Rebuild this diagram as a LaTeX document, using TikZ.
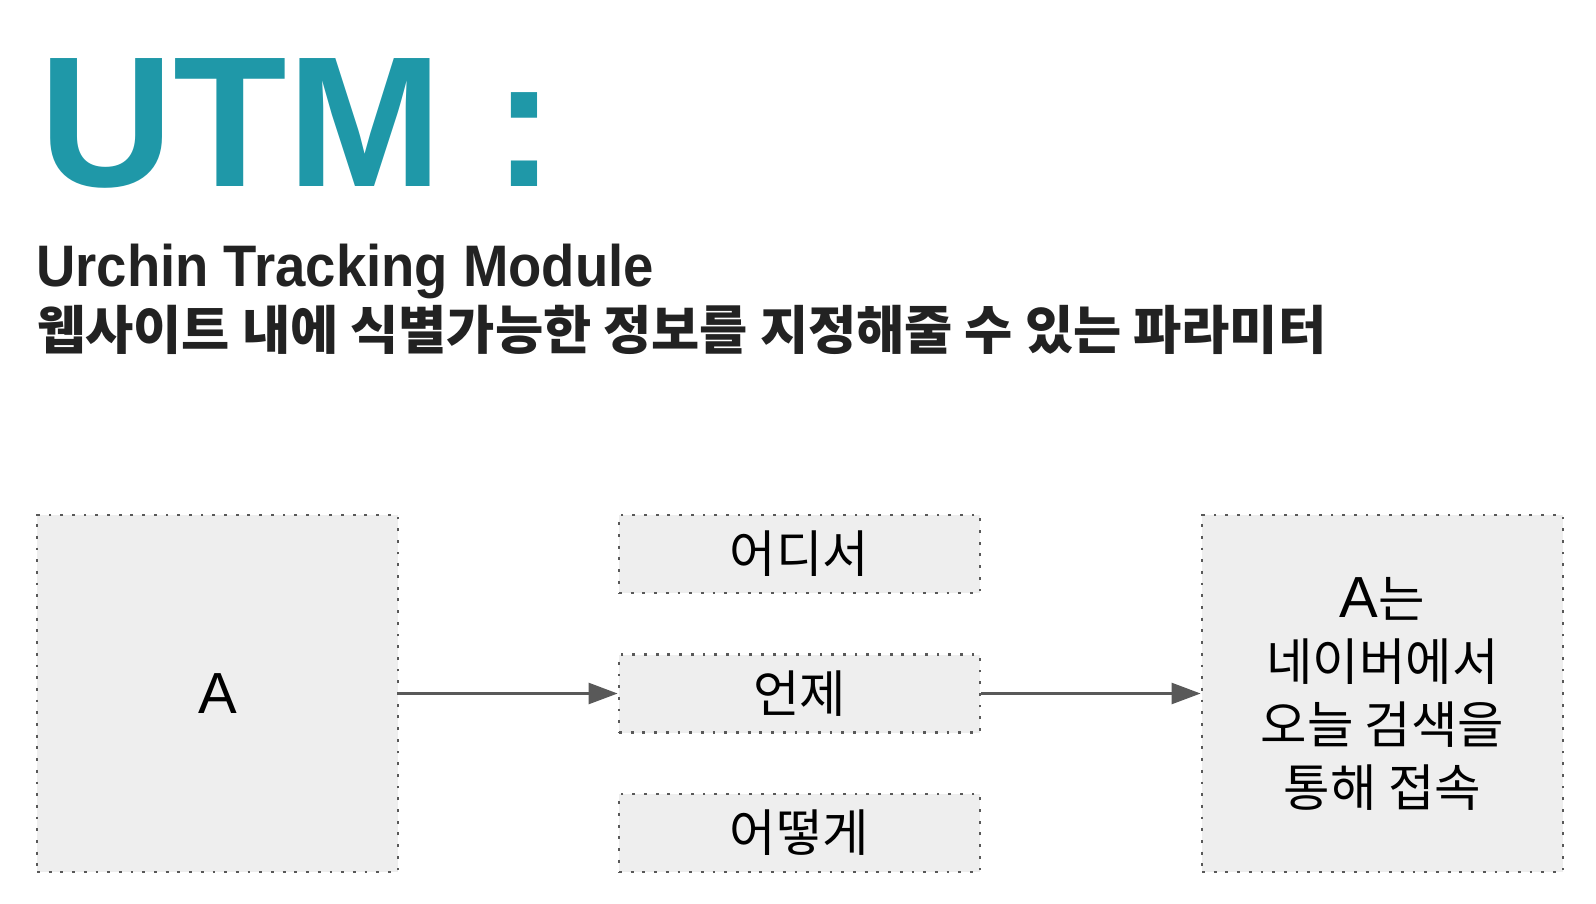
\documentclass[tikz,border=0pt]{standalone}
\usepackage{fontspec}
\setmainfont{Liberation Sans}
\newfontfamily\kr{Noto Sans CJK KR}
\newfontfamily\subfont[FakeStretch=0.93]{Liberation Sans}
\usetikzlibrary{arrows.meta}
\definecolor{teal1}{HTML}{1F98A8}
\definecolor{edge}{HTML}{595959}
\definecolor{boxfill}{HTML}{EEEEEE}
\definecolor{ink}{HTML}{222222}
\tikzset{
  box/.style={draw=edge, fill=boxfill, line width=2.8pt, dash pattern=on 2.8pt off 8.9pt, inner sep=0pt, align=center},
  conn/.style={draw=edge, line width=2.5pt, -{Triangle[length=29pt,width=21pt]}},
  boxtxt/.style={font=\fontsize{50.5}{63}\selectfont\kr},
}
\newcommand{\lat}[1]{{\fontsize{58}{63}\selectfont\rmfamily #1}}
\begin{document}
\begin{tikzpicture}[x=1pt,y=-1pt]
\useasboundingbox (0,0) rectangle (1596,904);
\node[anchor=base west, inner sep=0pt, text=teal1, font=\fontsize{186}{186}\selectfont\bfseries] (title) at (39,187) {UTM :};
\node[anchor=base west, inner sep=0pt, text=ink, font=\fontsize{58.6}{60}\selectfont\subfont\bfseries] (sub) at (36,287) {Urchin Tracking Module};
\node[anchor=base west, inner sep=0pt, text=ink, font=\fontsize{52.4}{60}\selectfont\kr\bfseries] (desc) at (37,349) {웹사이트 내에 식별가능한 정보를 지정해줄 수 있는 파라미터};
\node[box, minimum width=361pt, minimum height=357pt] (a) at (217.5,693.5) {\lat{A}};
\node[box, boxtxt, minimum width=361pt, minimum height=78pt] (where) at (799.5,554) {어디서};
\node[box, boxtxt, minimum width=361pt, minimum height=78pt] (when) at (799.5,693.5) {언제};
\node[box, boxtxt, minimum width=361pt, minimum height=78pt] (how) at (799.5,833) {어떻게};
\node[box, boxtxt, minimum width=361pt, minimum height=357pt] (res) at (1382.5,693.5) {\lat{A}는\\네이버에서\\오늘 검색을\\통해 접속};
\draw[conn] (a.east) -- (when.west);
\draw[conn] (when.east) -- (res.west);
\end{tikzpicture}
\end{document}
